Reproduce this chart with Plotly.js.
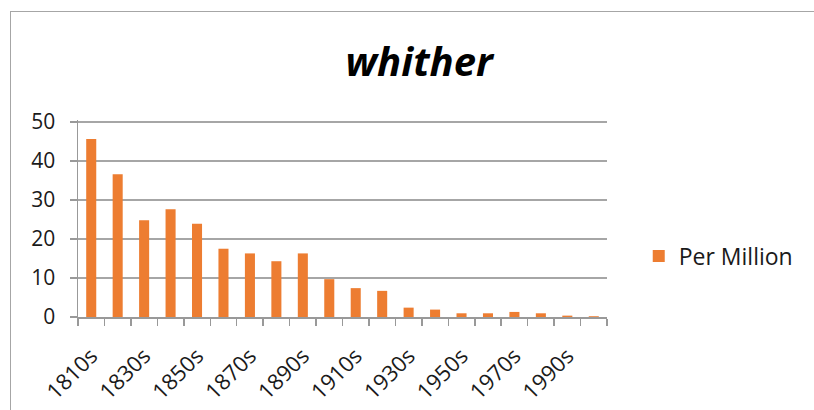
<!DOCTYPE html>
<html>
<head>
<meta charset="utf-8">
<script src="https://cdn.plot.ly/plotly-3.0.1.min.js"></script>
<style>
  html, body { margin: 0; padding: 0; background: #fff; }
  #wrap { position: relative; width: 814px; height: 410px; overflow: hidden; }
  #chart { position: absolute; left: 0; top: 0; width: 814px; height: 410px; }
  #frame { position: absolute; left: 10px; top: 11px; width: 900px; height: 500px;
           border: 1px solid #a6a6a6; pointer-events: none; }
</style>
</head>
<body>
<div id="wrap">
  <div id="chart"></div>
  <div id="frame"></div>
</div>
<script>
// Decades and frequency of "whither" per million words
const decades = ["1810s","1820s","1830s","1840s","1850s","1860s","1870s","1880s","1890s","1900s",
                 "1910s","1920s","1930s","1940s","1950s","1960s","1970s","1980s","1990s","2000s"];
const perMillion = [45.6, 36.6, 24.8, 27.6, 23.9, 17.5, 16.3, 14.3, 16.3, 9.7,
                    7.4, 6.7, 2.4, 1.9, 0.95, 0.95, 1.3, 0.95, 0.35, 0.2];
// Every other decade is labelled on the axis
const tickLabels = decades.map((d, i) => (i % 2 === 0 ? d : ""));
const yTicks = [0, 10, 20, 30, 40, 50];

const FONT = "Open Sans, Noto Sans, sans-serif";

const trace = {
  type: "bar",
  x: decades,
  y: perMillion,
  name: "Per Million",
  marker: { color: "#ED7D31" },
  showlegend: true
};

const layout = {
  width: 814,
  height: 410,
  // slight headroom above 50 so its gridline is drawn inside the plot area
  margin: { l: 78, r: 207, t: 120, b: 93 },
  paper_bgcolor: "#ffffff",
  plot_bgcolor: "#ffffff",
  bargap: 0.62,
  title: {
    text: "<b><i>whither</i></b>",
    font: { family: FONT, size: 40, color: "#000" },
    x: 0.515, xanchor: "center",
    y: 0.85, yanchor: "middle"
  },
  xaxis: {
    type: "category",
    tickmode: "array",
    tickvals: decades,
    ticktext: tickLabels,
    tickson: "boundaries",
    ticks: "outside",
    ticklen: 7,
    tickwidth: 1.5,
    tickcolor: "#999999",
    tickangle: -45,
    ticklabelstandoff: 16,
    showline: true,
    linecolor: "#999999",
    linewidth: 1.5,
    showgrid: false,
    tickfont: { family: FONT, size: 22, color: "#1a1a1a" }
  },
  yaxis: {
    range: [0, 50.5],
    tickmode: "array",
    tickvals: yTicks,
    ticks: "outside",
    ticklen: 7,
    tickwidth: 1.5,
    tickcolor: "#999999",
    showline: true,
    linecolor: "#999999",
    linewidth: 1.5,
    showgrid: true,
    gridcolor: "#a6a6a6",
    gridwidth: 1.5,
    zeroline: false,
    ticklabelstandoff: 10,
    tickfont: { family: FONT, size: 21, color: "#1a1a1a" }
  },
  legend: {
    x: 1.06, xanchor: "left",
    y: 0.31, yanchor: "middle",
    font: { family: FONT, size: 23, color: "#1a1a1a" },
    bgcolor: "rgba(0,0,0,0)"
  }
};

Plotly.newPlot("chart", [trace], layout, { displayModeBar: false, staticPlot: true });
</script>
</body>
</html>
